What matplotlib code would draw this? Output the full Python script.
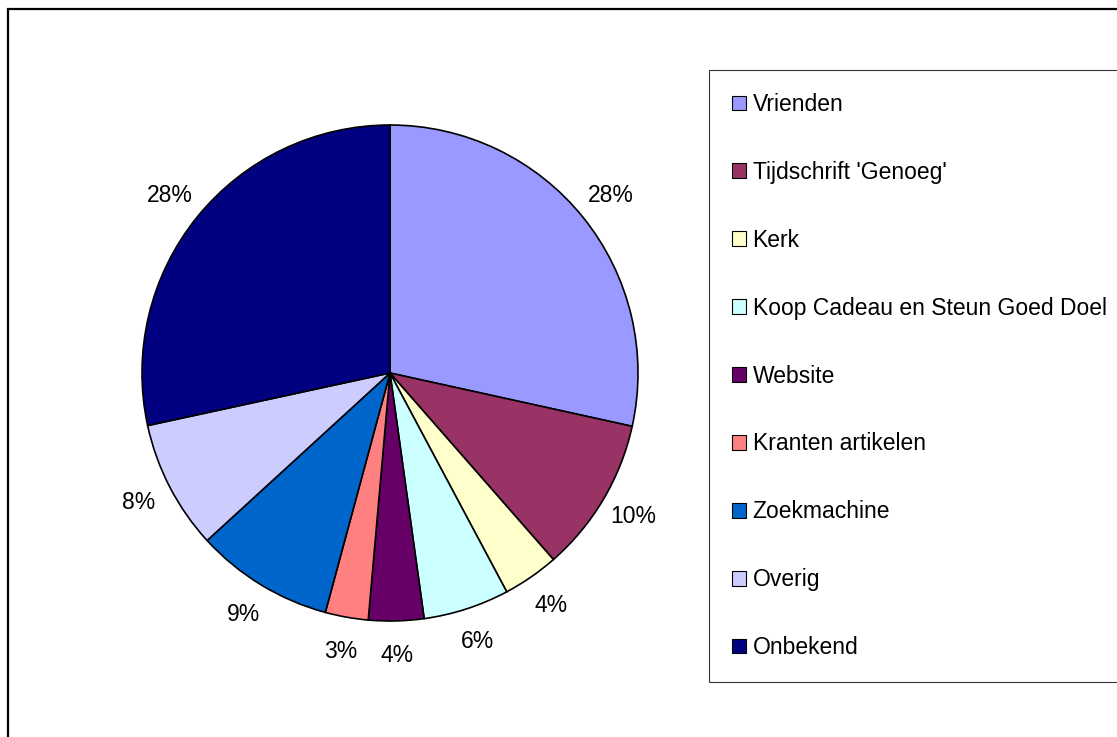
import matplotlib
matplotlib.use("Agg")
import matplotlib.pyplot as plt
from matplotlib.patches import Rectangle

plt.rcParams['font.family'] = ['Liberation Sans', 'DejaVu Sans']

categories = ["Vrienden", "Tijdschrift 'Genoeg'", "Kerk",
              "Koop Cadeau en Steun Goed Doel", "Website",
              "Kranten artikelen", "Zoekmachine", "Overig", "Onbekend"]
values = [28.45, 10.1, 3.65, 5.6, 3.6, 2.8, 9.0, 8.4, 28.4]
colors = ["#9999FF", "#993366", "#FFFFCC", "#CCFFFF", "#660066",
          "#FF8080", "#0066CC", "#CCCCFF", "#000080"]

W, H = 1117, 737
fig = plt.figure(figsize=(W / 100, H / 100), dpi=100)
fig.patch.set_facecolor("white")

# outer chart frame (right and bottom edges fall outside the image)
fig.patches.append(Rectangle((8 / W, -0.05), 1.2, 1 - 9 / H + 0.05,
                             transform=fig.transFigure, fill=False,
                             edgecolor="black", linewidth=1.6))

cx, cy, r = 390, 373, 248
ax = fig.add_axes([(cx - r) / W, 1 - (cy + r) / H, 2 * r / W, 2 * r / H])
wedges, texts, autotexts = ax.pie(
    values, colors=colors, startangle=90, counterclock=False,
    autopct=lambda p: f"{p:.0f}%", pctdistance=1.14, radius=1,
    wedgeprops=dict(edgecolor="black", linewidth=1.2),
    textprops=dict(fontsize=16.5, color="black"))
ax.set_xlim(-1, 1)
ax.set_ylim(-1, 1)
ax.set_aspect("auto")
ax.axis("off")

leg = fig.legend(wedges, categories, loc="upper left",
                 bbox_to_anchor=(709 / W, 1 - 70 / H),
                 borderaxespad=0, frameon=True, fancybox=False,
                 edgecolor="black", fontsize=16.5,
                 handlelength=0.6, handleheight=0.6,
                 handletextpad=0.3, borderpad=1.0,
                 labelspacing=1.96)
leg.get_frame().set_linewidth(0.8)
for h in leg.legend_handles:
    h.set_linewidth(0.8)

fig.savefig("out.png", dpi=100)
